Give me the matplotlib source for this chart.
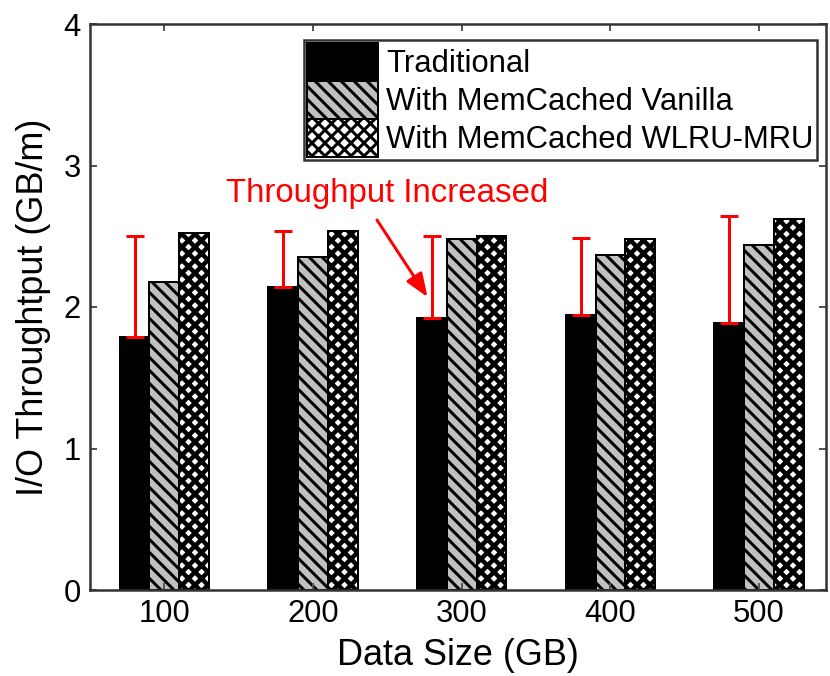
import numpy as np
import matplotlib
matplotlib.use("Agg")
import matplotlib.pyplot as plt

# -----------------------------
# DATA
# -----------------------------
sizes = ["100", "200", "300", "400", "500"]
traditional = [1.79, 2.14, 1.92, 1.94, 1.89]
vanilla = [2.18, 2.35, 2.48, 2.37, 2.44]
wlru_mru = [2.52, 2.54, 2.50, 2.48, 2.62]
err_top = [2.50, 2.54, 2.50, 2.49, 2.64]   # upper end of the red bars
series_names = ["Traditional", "With MemCached Vanilla", "With MemCached WLRU-MRU"]

# -----------------------------
# STYLE
# -----------------------------
DPI = 78
PT = 72 / DPI   # one pixel, in points

plt.rcParams["font.family"] = ["Liberation Sans", "DejaVu Sans"]
plt.rcParams["hatch.linewidth"] = 3 * PT

fig = plt.figure(figsize=(830 / DPI, 676 / DPI), dpi=DPI)
ax = fig.add_axes([90 / 830, 1 - 590 / 676, 736 / 830, 566 / 676])

x = np.arange(1, len(sizes) + 1)
w = 0.2

ax.bar(x - w, traditional, w, color="black", edgecolor="black",
       linewidth=2 * PT, label=series_names[0])
ax.bar(x, vanilla, w, color="#c0c0c0", edgecolor="black", hatch="\\\\",
       linewidth=2 * PT, label=series_names[1])
# darker checker look: thicker cross hatch on white
with plt.rc_context({"hatch.linewidth": 4.5 * PT}):
    ax.bar(x + w, wlru_mru, w, color="white", edgecolor="black", hatch="xx",
           linewidth=2 * PT, label=series_names[2])

# red gap bars on top of the traditional bars
lo = [0] * len(sizes)
hi = [t - b for t, b in zip(err_top, traditional)]
ax.errorbar(x - w, traditional, yerr=[lo, hi], fmt="none", ecolor="red",
            elinewidth=3 * PT, capsize=9 * PT, capthick=3 * PT, zorder=4)

# annotation
ax.text(2.50, 2.80, "Throughput Increased", color="red", fontsize=33 * PT,
        ha="center", va="center")
ax.annotate("", xy=(2.77, 2.07), xytext=(2.43, 2.615),
            arrowprops=dict(arrowstyle="-|>,head_length=0.9,head_width=0.35",
                            color="red", lw=3 * PT, shrinkA=0, shrinkB=0,
                            mutation_scale=22 * PT))

# -----------------------------
# AXES
# -----------------------------
ax.set_xlim(0.5, 5.45)
ax.set_ylim(0, 4)
ax.set_xticks(x, sizes)
ax.set_yticks(range(5))
ax.tick_params(direction="in", top=True, right=True, length=7 * PT,
               width=2 * PT, labelsize=31 * PT, pad=9 * PT, color="#555555")
for s in ax.spines.values():
    s.set_linewidth(2.5 * PT)
    s.set_color("#333333")

ax.set_xlabel("Data Size (GB)", fontsize=36 * PT, labelpad=9 * PT)
ax.set_ylabel("I/O Throughtput (GB/m)", fontsize=36 * PT, labelpad=13 * PT)

leg = ax.legend(loc="upper left", bbox_to_anchor=(304 / 830, 1 - 40 / 676),
                bbox_transform=fig.transFigure, fontsize=31 * PT,
                handlelength=2.3, handleheight=1.5, labelspacing=0,
                handletextpad=0.25, borderpad=0.1, borderaxespad=0,
                fancybox=False, edgecolor="#333333", framealpha=1)
leg.get_frame().set_linewidth(2.5 * PT)

fig.savefig("out.png", dpi=DPI)
